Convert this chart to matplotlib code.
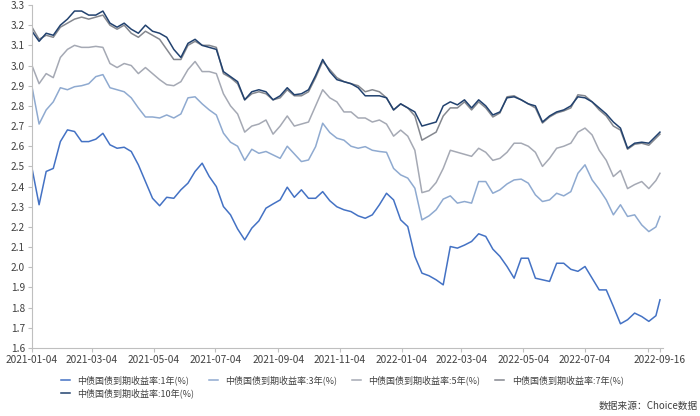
import matplotlib
matplotlib.use("Agg")
import matplotlib.pyplot as plt
import pandas as pd
import numpy as np

plt.rcParams['font.family'] = ['Noto Sans CJK SC', 'DejaVu Sans']

# weekly sample dates + final date
dates = list(pd.date_range('2021-01-04', periods=89, freq='7D')) + [pd.Timestamp('2022-09-16')]

y10 = [3.17, 3.12, 3.16, 3.15, 3.20, 3.23, 3.27, 3.27, 3.25, 3.25,
       3.27, 3.21, 3.19, 3.21, 3.18, 3.16, 3.20, 3.17, 3.16, 3.14,
       3.08, 3.04, 3.11, 3.13, 3.10, 3.09, 3.08, 2.97, 2.945, 2.92,
       2.83, 2.87, 2.88, 2.87, 2.83, 2.85, 2.89, 2.855, 2.86, 2.88,
       2.95, 3.03, 2.97, 2.93, 2.92, 2.91, 2.89, 2.85, 2.85, 2.85,
       2.84, 2.78, 2.81, 2.79, 2.77, 2.70, 2.71, 2.72, 2.80, 2.82,
       2.805, 2.83, 2.79, 2.83, 2.80, 2.755, 2.77, 2.84, 2.845, 2.83,
       2.81, 2.80, 2.72, 2.75, 2.77, 2.78, 2.80, 2.845, 2.84, 2.82,
       2.79, 2.76, 2.72, 2.69, 2.59, 2.615, 2.62, 2.615, 2.65, 2.67]

y7 = [3.19, 3.13, 3.15, 3.14, 3.19, 3.21, 3.23, 3.24, 3.23, 3.24,
      3.25, 3.20, 3.18, 3.20, 3.16, 3.14, 3.17, 3.15, 3.13, 3.08,
      3.03, 3.03, 3.10, 3.12, 3.10, 3.10, 3.09, 2.96, 2.94, 2.91,
      2.83, 2.86, 2.87, 2.86, 2.83, 2.84, 2.88, 2.85, 2.85, 2.87,
      2.94, 3.02, 2.98, 2.94, 2.92, 2.91, 2.90, 2.87, 2.88, 2.87,
      2.84, 2.78, 2.81, 2.79, 2.75, 2.63, 2.65, 2.67, 2.75, 2.79,
      2.79, 2.82, 2.78, 2.82, 2.79, 2.745, 2.765, 2.845, 2.85, 2.83,
      2.81, 2.79, 2.715, 2.745, 2.765, 2.775, 2.79, 2.855, 2.85, 2.82,
      2.78, 2.75, 2.70, 2.68, 2.585, 2.61, 2.615, 2.605, 2.64, 2.66]

y5 = [3.00, 2.91, 2.96, 2.94, 3.04, 3.08, 3.10, 3.09, 3.09, 3.095,
      3.09, 3.01, 2.99, 3.01, 3.00, 2.96, 2.99, 2.96, 2.93, 2.905,
      2.90, 2.92, 2.98, 3.02, 2.97, 2.97, 2.96, 2.86, 2.80, 2.76,
      2.67, 2.70, 2.71, 2.73, 2.66, 2.70, 2.75, 2.70, 2.71, 2.72,
      2.80, 2.88, 2.84, 2.82, 2.77, 2.77, 2.74, 2.74, 2.72, 2.73,
      2.71, 2.65, 2.68, 2.65, 2.58, 2.37, 2.38, 2.42, 2.49, 2.58,
      2.57, 2.56, 2.55, 2.59, 2.57, 2.53, 2.54, 2.57, 2.615, 2.615,
      2.60, 2.57, 2.50, 2.54, 2.59, 2.60, 2.615, 2.67, 2.69, 2.656,
      2.58, 2.53, 2.45, 2.48, 2.39, 2.41, 2.425, 2.39, 2.43, 2.466]

y3 = [2.895, 2.71, 2.78, 2.82, 2.89, 2.88, 2.895, 2.90, 2.91, 2.945,
      2.955, 2.89, 2.88, 2.87, 2.84, 2.79, 2.745, 2.745, 2.74, 2.755,
      2.74, 2.76, 2.84, 2.845, 2.81, 2.78, 2.755, 2.665, 2.62, 2.60,
      2.53, 2.585, 2.565, 2.574, 2.557, 2.54, 2.60, 2.562, 2.524, 2.532,
      2.598, 2.714, 2.668, 2.64, 2.63, 2.60, 2.59, 2.598, 2.58, 2.574,
      2.57, 2.49, 2.458, 2.442, 2.392, 2.235, 2.255, 2.285, 2.338, 2.354,
      2.318, 2.326, 2.318, 2.425, 2.425, 2.367, 2.384, 2.413, 2.433, 2.437,
      2.417, 2.359, 2.326, 2.334, 2.367, 2.354, 2.375, 2.466, 2.508, 2.433,
      2.387, 2.334, 2.26, 2.31, 2.252, 2.26, 2.21, 2.177, 2.20, 2.252]

y1 = [2.491, 2.31, 2.475, 2.49, 2.623, 2.681, 2.673, 2.623, 2.623, 2.635,
      2.664, 2.607, 2.59, 2.595, 2.574, 2.508, 2.425, 2.342, 2.305, 2.347,
      2.342, 2.384, 2.417, 2.475, 2.516, 2.45, 2.40, 2.301, 2.26, 2.19,
      2.136, 2.194, 2.23, 2.293, 2.314, 2.334, 2.397, 2.347, 2.384, 2.342,
      2.342, 2.375, 2.33, 2.30, 2.285, 2.276, 2.255, 2.243, 2.26, 2.31,
      2.367, 2.334, 2.235, 2.202, 2.054, 1.971, 1.958, 1.938, 1.913, 2.103,
      2.095, 2.11, 2.128, 2.166, 2.153, 2.09, 2.054, 2.004, 1.946, 2.045,
      2.045, 1.946, 1.938, 1.93, 2.02, 2.02, 1.99, 1.98, 2.004, 1.946,
      1.888, 1.888, 1.806, 1.72, 1.74, 1.773, 1.756, 1.732, 1.76, 1.839]

labels = ['中债国债到期收益率:1年(%)', '中债国债到期收益率:3年(%)',
          '中债国债到期收益率:5年(%)', '中债国债到期收益率:7年(%)',
          '中债国债到期收益率:10年(%)']
colors = ['#4472C4', '#8FAAD0', '#A5A9B4', '#85888F', '#22426F']
series = [y1, y3, y5, y7, y10]

xtick_dates = ['2021-01-04', '2021-03-04', '2021-05-04', '2021-07-04', '2021-09-04',
               '2021-11-04', '2022-01-04', '2022-03-04', '2022-05-04', '2022-07-04',
               '2022-09-04', '2022-09-16']
xtick_labels = ['2021-01-04', '2021-03-04', '2021-05-04', '2021-07-04', '2021-09-04',
                '2021-11-04', '2022-01-04', '2022-03-04', '2022-05-04', '2022-07-04',
                '', '2022-09-16']

fig = plt.figure(figsize=(7.0, 4.16), dpi=100)
ax = fig.add_axes([32/700, 1-348/416, 631/700, 343/416])

handles = []
for ys, c, lab in zip(series, colors, labels):
    h, = ax.plot(dates, ys, color=c, lw=1.1, label=lab)
    handles.append(h)

ax.set_ylim(1.6, 3.3)
ax.set_xlim(pd.Timestamp('2021-01-04'), pd.Timestamp('2022-09-19'))
ax.set_yticks(np.round(np.arange(1.6, 3.31, 0.1), 1))
ax.yaxis.set_major_formatter(matplotlib.ticker.FormatStrFormatter('%.1f'))
ax.set_xticks([pd.Timestamp(d) for d in xtick_dates])
ax.set_xticklabels(xtick_labels)

for s in ['top', 'right']:
    ax.spines[s].set_visible(False)
for s in ['left', 'bottom']:
    ax.spines[s].set_color('#BFBFBF')
    ax.spines[s].set_linewidth(0.8)
ax.tick_params(axis='both', colors='#BFBFBF', length=3, width=0.8, labelsize=7.3,
               labelcolor='#404040', pad=2)

order = [0, 4, 1, 2, 3]
fig.legend([handles[i] for i in order], [labels[i] for i in order],
           loc='upper left', bbox_to_anchor=(61/700, 1-375/416), ncol=4,
           frameon=False, fontsize=6.5, handlelength=1.0, handletextpad=0.8,
           columnspacing=1.65, labelspacing=0.35, borderpad=0, borderaxespad=0,
           labelcolor='#404040')

fig.text(698/700, 1-406/416, '数据来源：Choice数据', ha='right', va='center',
         fontsize=7, color='#404040')

fig.savefig('out.png', dpi=100)
